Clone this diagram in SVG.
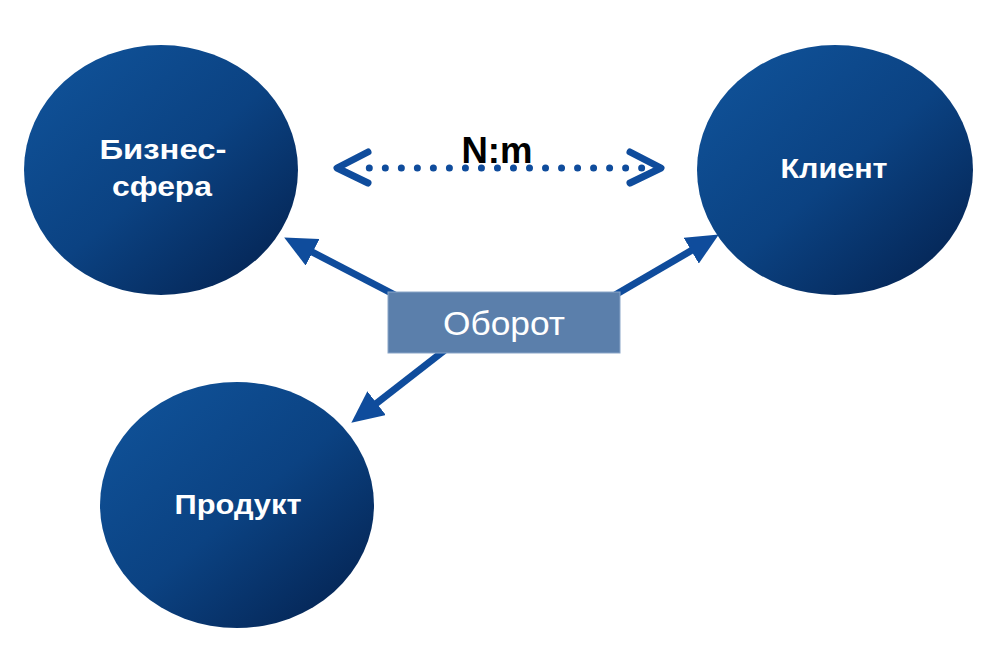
<svg xmlns="http://www.w3.org/2000/svg" width="1003" height="664" viewBox="0 0 1003 664">
<defs>
<linearGradient id="ball" x1="0.15" y1="0.1" x2="0.9" y2="0.9">
<stop offset="0" stop-color="#0f5096"/>
<stop offset="0.5" stop-color="#0b4282"/>
<stop offset="1" stop-color="#052656"/>
</linearGradient>
<marker id="ah" viewBox="0 0 32 30" markerWidth="32" markerHeight="30" refX="9" refY="15" orient="auto" markerUnits="userSpaceOnUse">
<path d="M0,0 L32,15 L0,30 z" fill="#0f4c9c"/>
</marker>
<style>
.node ellipse{fill:url(#ball);}
.lbl{font-family:"Liberation Sans",Arial,sans-serif;font-weight:bold;font-size:28px;fill:#fff;text-anchor:middle;}
.arr{stroke:#0f4c9c;stroke-width:7;fill:none;marker-end:url(#ah);}
.chev{stroke:#0f4c9c;stroke-width:7;fill:none;stroke-linecap:round;stroke-linejoin:round;}
</style>
</defs>
<rect width="1003" height="664" fill="#fff"/>
<g id="connectors">
<line class="arr" x1="395" y1="295" x2="304.6" y2="248.1"/>
<line class="arr" x1="615" y1="295" x2="699" y2="246.1"/>
<line class="arr" x1="445" y1="350" x2="369.5" y2="408.7"/>
<line x1="369.3" y1="168" x2="642" y2="168" stroke="#0f4c9c" stroke-width="7" stroke-linecap="round" stroke-dasharray="0 16.02"/>
<polyline class="chev" points="368,152 337,168 368,183"/>
<polyline class="chev" points="630,152 661,168 630,183"/>
<text x="497" y="163" font-family="Liberation Sans,Arial,sans-serif" font-weight="bold" font-size="36" fill="#000" text-anchor="middle" textLength="71" lengthAdjust="spacingAndGlyphs">N:m</text>
</g>
<g id="node-biz" class="node">
<ellipse cx="161" cy="170" rx="137" ry="125"/>
<text class="lbl" x="163" y="159" textLength="127" lengthAdjust="spacingAndGlyphs">Бизнес-</text>
<text class="lbl" x="162" y="196" textLength="100" lengthAdjust="spacingAndGlyphs">сфера</text>
</g>
<g id="node-client" class="node">
<ellipse cx="835" cy="170" rx="138" ry="125"/>
<text class="lbl" x="834" y="178" textLength="107" lengthAdjust="spacingAndGlyphs">Клиент</text>
</g>
<g id="node-product" class="node">
<ellipse cx="237" cy="505" rx="137" ry="123"/>
<text class="lbl" x="238" y="514" textLength="127" lengthAdjust="spacingAndGlyphs">Продукт</text>
</g>
<g id="node-turnover">
<rect x="388" y="292" width="232" height="61" fill="#5b7fab" stroke="#8aa6c8" stroke-width="1"/>
<text x="504" y="335" font-family="Liberation Sans,Arial,sans-serif" font-size="34" fill="#fff" text-anchor="middle" textLength="122" lengthAdjust="spacingAndGlyphs">Оборот</text>
</g>
</svg>
